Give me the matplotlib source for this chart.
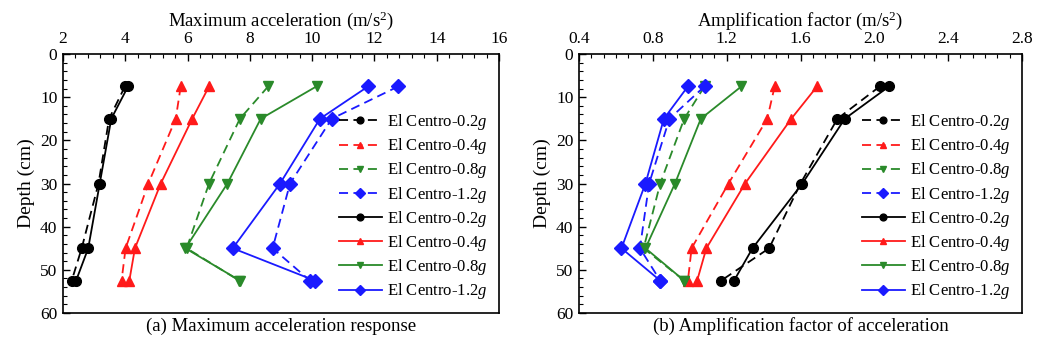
import matplotlib
matplotlib.use("Agg")
import matplotlib.pyplot as plt
from matplotlib.ticker import MultipleLocator, AutoMinorLocator

plt.rcParams['font.family'] = ['Liberation Serif', 'DejaVu Serif']
plt.rcParams['mathtext.fontset'] = 'custom'
plt.rcParams['mathtext.it'] = 'Liberation Serif:italic'
plt.rcParams['mathtext.rm'] = 'Liberation Serif'

depth = [7.5, 15, 30, 45, 52.5]
labels = ["El Centro-0.2$g$", "El Centro-0.4$g$", "El Centro-0.8$g$", "El Centro-1.2$g$"]
colors = ["black", "#ff1a1a", "#2a8a2a", "#1a1aff"]
markers = ["o", "^", "v", "D"]

# (a) maximum acceleration, dashed series then solid series
acc_dashed = [
    [3.99, 3.48, 3.14, 2.60, 2.28],
    [5.78, 5.62, 4.74, 4.01, 3.88],
    [8.59, 7.68, 6.69, 5.97, 7.66],
    [12.77, 10.63, 9.29, 8.73, 9.93],
]
acc_solid = [
    [4.09, 3.55, 3.18, 2.81, 2.42],
    [6.69, 6.15, 5.14, 4.31, 4.13],
    [10.14, 8.35, 7.28, 5.93, 7.68],
    [11.80, 10.25, 8.97, 7.45, 10.09],
]

# (b) amplification factor
amp_dashed = [
    [2.03, 1.80, 1.60, 1.43, 1.17],
    [1.46, 1.42, 1.21, 1.01, 0.99],
    [1.08, 0.97, 0.84, 0.75, 0.97],
    [1.08, 0.89, 0.78, 0.73, 0.84],
]
amp_solid = [
    [2.08, 1.84, 1.61, 1.34, 1.24],
    [1.69, 1.55, 1.30, 1.09, 1.04],
    [1.28, 1.06, 0.92, 0.76, 0.97],
    [0.99, 0.86, 0.76, 0.63, 0.84],
]

fig = plt.figure(figsize=(10.37, 3.5), dpi=100)
ax1 = fig.add_axes([63/1037, 1-313/350, 436/1037, 259/350])
ax2 = fig.add_axes([579/1037, 1-313/350, 443/1037, 259/350])


def draw(ax, dashed, solid, xlim, xmajor, nminor, xlabel, caption):
    for i in range(4):
        ax.plot(dashed[i], depth, color=colors[i], marker=markers[i], ms=7,
                lw=1.3, dashes=(5, 3), label=labels[i])
    for i in range(4):
        ax.plot(solid[i], depth, color=colors[i], marker=markers[i], ms=7,
                lw=1.3, label=labels[i])
    ax.set_xlim(*xlim)
    ax.set_ylim(60, 0)
    ax.xaxis.set_major_locator(MultipleLocator(xmajor))
    ax.xaxis.set_minor_locator(AutoMinorLocator(nminor))
    ax.yaxis.set_major_locator(MultipleLocator(10))
    ax.yaxis.set_minor_locator(AutoMinorLocator(5))
    ax.xaxis.tick_top()
    ax.xaxis.set_label_position('top')
    ax.tick_params(which='both', direction='in', top=True, bottom=False,
                   left=True, right=False, labelsize=12.5)
    ax.tick_params(axis='x', which='major', pad=5)
    ax.tick_params(axis='y', which='major', pad=4)
    ax.tick_params(which='major', length=5, width=1)
    ax.tick_params(which='minor', length=3, width=0.8)
    for s in ax.spines.values():
        s.set_linewidth(1.2)
    ax.set_xlabel(xlabel, fontsize=13.5, labelpad=4)
    ax.set_ylabel("Depth (cm)", fontsize=14, labelpad=4)
    ax.legend(loc='lower right', bbox_to_anchor=(1.0, 0.0), frameon=False,
              fontsize=12, labelspacing=0.25, handlelength=2.6,
              handletextpad=0.3, markerscale=0.7, borderaxespad=0.3)
    ax.text(0.5, -0.05, caption, transform=ax.transAxes, ha='center',
            va='center', fontsize=13.5)


draw(ax1, acc_dashed, acc_solid, (2, 16), 2, 5,
     "Maximum acceleration (m/s$^2$)", "(a) Maximum acceleration response")
draw(ax2, amp_dashed, amp_solid, (0.4, 2.8), 0.4, 6,
     "Amplification factor (m/s$^2$)", "(b) Amplification factor of acceleration")
ax2.xaxis.set_major_formatter(matplotlib.ticker.FormatStrFormatter('%.1f'))

fig.savefig("out.png", dpi=100)
